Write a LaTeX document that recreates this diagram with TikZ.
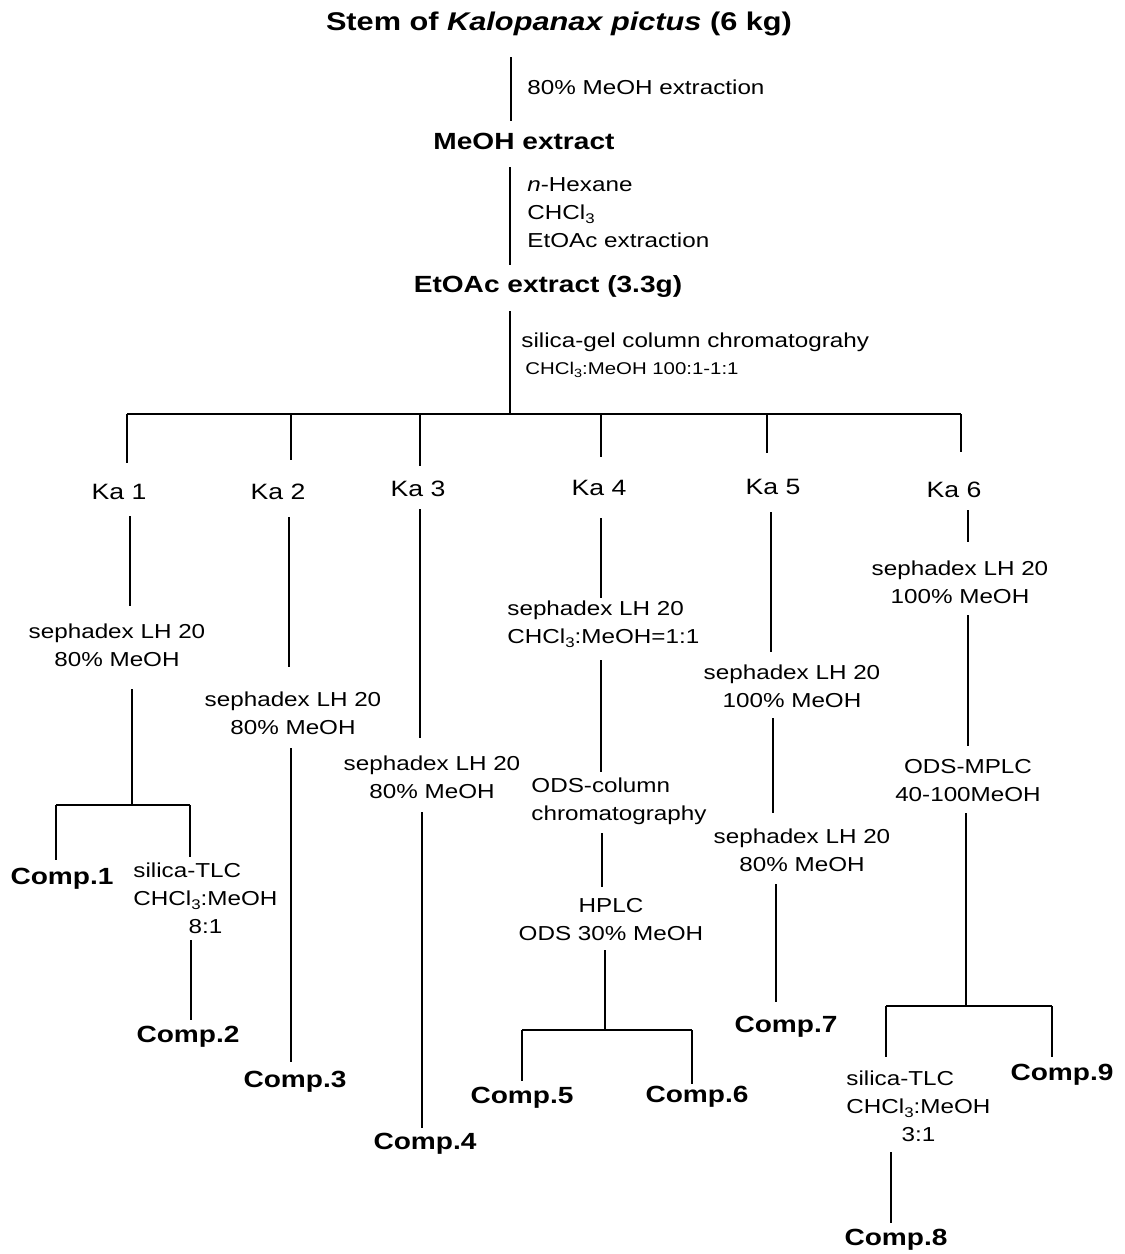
\documentclass[tikz,border=0pt]{standalone}
\usepackage{fontspec}
\setmainfont{Liberation Sans}[FakeStretch=1.2]
\newcommand{\subthree}{\raisebox{-0.35ex}{\fontsize{7}{7}\selectfont 3}}
\begin{document}
\begin{tikzpicture}[x=0.5pt,y=-0.5pt,
  ttl/.style={inner sep=0pt,font=\fontsize{12.8}{14}\selectfont\bfseries},
  bld/.style={inner sep=0pt,font=\fontsize{11.7}{13}\selectfont\bfseries},
  kal/.style={inner sep=0pt,font=\fontsize{11.1}{12}\selectfont},
  lab/.style={inner sep=0pt,font=\fontsize{10.1}{14}\selectfont,align=center},
  labl/.style={inner sep=0pt,font=\fontsize{10.1}{14}\selectfont,align=left,anchor=west},
  sml/.style={inner sep=0pt,font=\fontsize{8.5}{10}\selectfont,anchor=west},
  ln/.style={line width=0.7pt}]
\fill[white] (0,0) rectangle (1125,1254);
\useasboundingbox (0,0) rectangle (1125,1254);

% ---- main trunk ----
\node[ttl] (title) at (559,24) {Stem of \textit{Kalopanax pictus} (6 kg)};
\node[labl] (l1) at (527,87) {80\% MeOH extraction};
\node[bld] (meoh) at (524,141) {MeOH extract};
\node[labl] (l2) at (527,213) {\textit{n}-Hexane\\CHCl\subthree\\EtOAc extraction};
\node[bld] (etoac) at (548,286) {EtOAc extract (3.3g)};
\node[labl] (l3) at (521,342) {silica-gel column chromatograhy};
\node[sml] (l3b) at (525,370) {CHCl\raisebox{-0.35ex}{\fontsize{6}{6}\selectfont 3}:MeOH 100:1-1:1};

\coordinate (t1) at (511,57);  \coordinate (t2) at (511,121);
\coordinate (t3) at (510,167); \coordinate (t4) at (510,265);
\coordinate (t5) at (510,311); \coordinate (t6) at (510,414);
\draw[ln] (t1) -- (t2);
\draw[ln] (t3) -- (t4);
\draw[ln] (t5) -- (t6);

% ---- fraction bar ----
\coordinate (bL) at (127,414); \coordinate (bR) at (961,414);
\draw[ln] (bL) -- (bR);
\node[kal] (ka1) at (119,492) {Ka 1};
\node[kal] (ka2) at (278,492) {Ka 2};
\node[kal] (ka3) at (418,489) {Ka 3};
\node[kal] (ka4) at (599,488) {Ka 4};
\node[kal] (ka5) at (773,487) {Ka 5};
\node[kal] (ka6) at (954,490) {Ka 6};
\coordinate (d1) at (127,463); \draw[ln] (bL) -- (d1);
\coordinate (u2) at (291,414); \coordinate (d2) at (291,460); \draw[ln] (u2) -- (d2);
\coordinate (u3) at (420,414); \coordinate (d3) at (420,466); \draw[ln] (u3) -- (d3);
\coordinate (u4) at (601,414); \coordinate (d4) at (601,457); \draw[ln] (u4) -- (d4);
\coordinate (u5) at (767,414); \coordinate (d5) at (767,453); \draw[ln] (u5) -- (d5);
\coordinate (d6) at (961,452); \draw[ln] (bR) -- (d6);

% ---- Ka 1 ----
\node[lab] (s1) at (117,645) {sephadex LH 20\\80\% MeOH};
\draw[ln] (130,516) coordinate (a1) -- (130,606) coordinate (a2);
\draw[ln] (132,689) coordinate (a3) -- (132,805) coordinate (a4);
\coordinate (c1L) at (56,805); \coordinate (c1R) at (190,805);
\draw[ln] (c1L) -- (c1R);
\draw[ln] (c1L) -- (56,860) coordinate (a5);
\draw[ln] (c1R) -- (190,857) coordinate (a6);
\node[bld] (comp1) at (62,879) {Comp.1};
\node[inner sep=0pt,font=\fontsize{10.1}{14}\selectfont,anchor=west] (tlc1) at (133,900)
  {\begin{tabular}{@{}l@{}}silica-TLC\\CHCl\subthree:MeOH\\\multicolumn{1}{@{}c@{}}{8:1}\end{tabular}};
\draw[ln] (191,940) coordinate (a7) -- (191,1020) coordinate (a8);
\node[bld] (comp2) at (188,1037) {Comp.2};

% ---- Ka 2 ----
\draw[ln] (289,517) coordinate (b1) -- (289,667) coordinate (b2);
\node[lab] (s2) at (293,713) {sephadex LH 20\\80\% MeOH};
\draw[ln] (291,748) coordinate (b3) -- (291,1062) coordinate (b4);
\node[bld] (comp3) at (295,1082) {Comp.3};

% ---- Ka 3 ----
\draw[ln] (420,509) coordinate (e1) -- (420,738) coordinate (e2);
\node[lab] (s3) at (432,777) {sephadex LH 20\\80\% MeOH};
\draw[ln] (422,812) coordinate (e3) -- (422,1128) coordinate (e4);
\node[bld] (comp4) at (425,1144) {Comp.4};

% ---- Ka 4 ----
\draw[ln] (601,518) coordinate (f1) -- (601,598) coordinate (f2);
\node[labl] (s4) at (507,624) {sephadex LH 20\\CHCl\subthree:MeOH=1:1};
\draw[ln] (601,660) coordinate (f3) -- (601,772) coordinate (f4);
\node[labl] (ods) at (531,801) {ODS-column\\chromatography};
\draw[ln] (602,833) coordinate (f5) -- (602,887) coordinate (f6);
\node[lab] (hplc) at (611,920) {HPLC\\ODS 30\% MeOH};
\draw[ln] (605,950) coordinate (f7) -- (605,1030) coordinate (f8);
\coordinate (c4L) at (522,1030); \coordinate (c4R) at (692,1030);
\draw[ln] (c4L) -- (c4R);
\draw[ln] (c4L) -- (522,1081) coordinate (f9);
\draw[ln] (c4R) -- (692,1084) coordinate (f10);
\node[bld] (comp5) at (522,1098) {Comp.5};
\node[bld] (comp6) at (697,1097) {Comp.6};

% ---- Ka 5 ----
\draw[ln] (771,512) coordinate (g1) -- (771,652) coordinate (g2);
\node[lab] (s5) at (792,686) {sephadex LH 20\\100\% MeOH};
\draw[ln] (773,718) coordinate (g3) -- (773,813) coordinate (g4);
\node[lab] (s5b) at (802,850) {sephadex LH 20\\80\% MeOH};
\draw[ln] (776,884) coordinate (g5) -- (776,1002) coordinate (g6);
\node[bld] (comp7) at (786,1027) {Comp.7};

% ---- Ka 6 ----
\draw[ln] (968,510) coordinate (h1) -- (968,542) coordinate (h2);
\node[lab] (s6) at (960,582) {sephadex LH 20\\100\% MeOH};
\draw[ln] (968,615) coordinate (h3) -- (968,746) coordinate (h4);
\node[lab] (mplc) at (968,781) {ODS-MPLC\\40-100MeOH};
\draw[ln] (966,813) coordinate (h5) -- (966,1006) coordinate (h6);
\coordinate (c6L) at (886,1006); \coordinate (c6R) at (1052,1006);
\draw[ln] (c6L) -- (c6R);
\draw[ln] (c6L) -- (886,1057) coordinate (h7);
\draw[ln] (c6R) -- (1052,1057) coordinate (h8);
\node[inner sep=0pt,font=\fontsize{10.1}{14}\selectfont,anchor=west] (tlc2) at (846,1108)
  {\begin{tabular}{@{}l@{}}silica-TLC\\CHCl\subthree:MeOH\\\multicolumn{1}{@{}c@{}}{3:1}\end{tabular}};
\draw[ln] (891,1152) coordinate (h9) -- (891,1223) coordinate (h10);
\node[bld] (comp8) at (896,1240) {Comp.8};
\node[bld] (comp9) at (1062,1075) {Comp.9};
\end{tikzpicture}
\end{document}
